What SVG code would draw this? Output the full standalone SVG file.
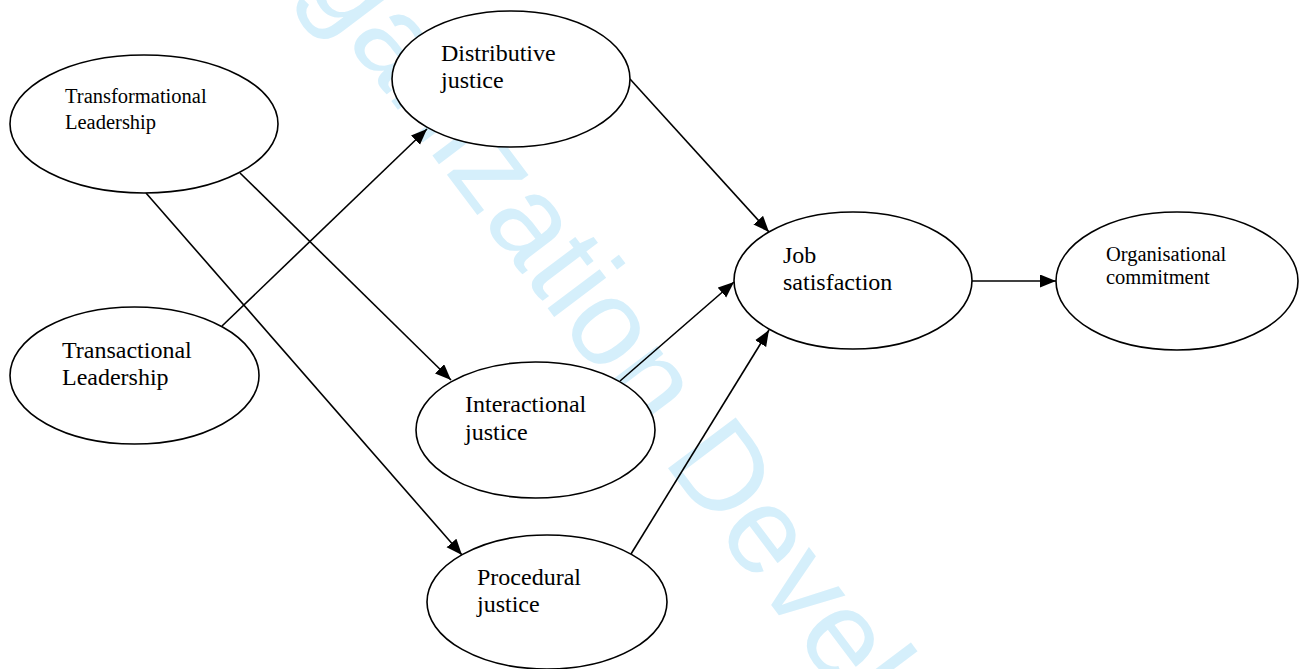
<svg xmlns="http://www.w3.org/2000/svg" width="1304" height="669" viewBox="0 0 1304 669">
<defs>
<style>
.node ellipse{fill:#ffffff;stroke:#000000;stroke-width:1.6}
.lbl{font-family:"Liberation Serif","Times New Roman",serif;fill:#000000;font-size:24px}
.sm{font-size:20.5px}
.edge{stroke:#000000;stroke-width:1.6;fill:none;marker-end:url(#arr)}
.wm{font-family:"Liberation Sans",Arial,sans-serif;font-size:123px;fill:#d5effb}
</style>
<marker id="arr" markerUnits="userSpaceOnUse" markerWidth="17" markerHeight="14" refX="16" refY="6.5" orient="auto">
<path d="M0,0 L16,6.5 L0,13 Z" fill="#000000"/>
</marker>
</defs>
<rect width="1304" height="669" fill="#ffffff"/>
<text class="wm" transform="translate(304,-15) rotate(53)">ganization Devel</text>
<g id="connectors">
<line class="edge" x1="240" y1="173" x2="451" y2="380"/>
<line class="edge" x1="146" y1="193" x2="462" y2="555"/>
<line class="edge" x1="222" y1="326" x2="427" y2="129"/>
<line class="edge" x1="630" y1="79" x2="769" y2="232"/>
<line class="edge" x1="620" y1="381" x2="734" y2="282"/>
<line class="edge" x1="631" y1="554" x2="769" y2="330"/>
<line class="edge" x1="972" y1="281" x2="1056" y2="281"/>
</g>
<g id="transformational" class="node">
<ellipse cx="144" cy="124" rx="134" ry="69"/>
<text class="lbl sm" x="65" y="103">Transformational</text>
<text class="lbl sm" x="65" y="129">Leadership</text>
</g>
<g id="transactional" class="node">
<ellipse cx="134.5" cy="375.5" rx="124.5" ry="68.5"/>
<text class="lbl" x="62" y="358">Transactional</text>
<text class="lbl" x="62" y="385">Leadership</text>
</g>
<g id="distributive" class="node">
<ellipse cx="511" cy="79" rx="119" ry="68"/>
<text class="lbl" x="441" y="61">Distributive</text>
<text class="lbl" x="441" y="88">justice</text>
</g>
<g id="interactional" class="node">
<ellipse cx="535.5" cy="430" rx="119.5" ry="68"/>
<text class="lbl" x="465" y="412">Interactional</text>
<text class="lbl" x="465" y="440">justice</text>
</g>
<g id="procedural" class="node">
<ellipse cx="547" cy="602" rx="120" ry="67"/>
<text class="lbl" x="477" y="585">Procedural</text>
<text class="lbl" x="477" y="612">justice</text>
</g>
<g id="job" class="node">
<ellipse cx="853" cy="280.5" rx="119" ry="68.5"/>
<text class="lbl" x="783" y="263">Job</text>
<text class="lbl" x="783" y="290">satisfaction</text>
</g>
<g id="commitment" class="node">
<ellipse cx="1177" cy="281" rx="121" ry="69"/>
<text class="lbl sm" x="1106" y="261">Organisational</text>
<text class="lbl sm" x="1106" y="284">commitment</text>
</g>
</svg>
